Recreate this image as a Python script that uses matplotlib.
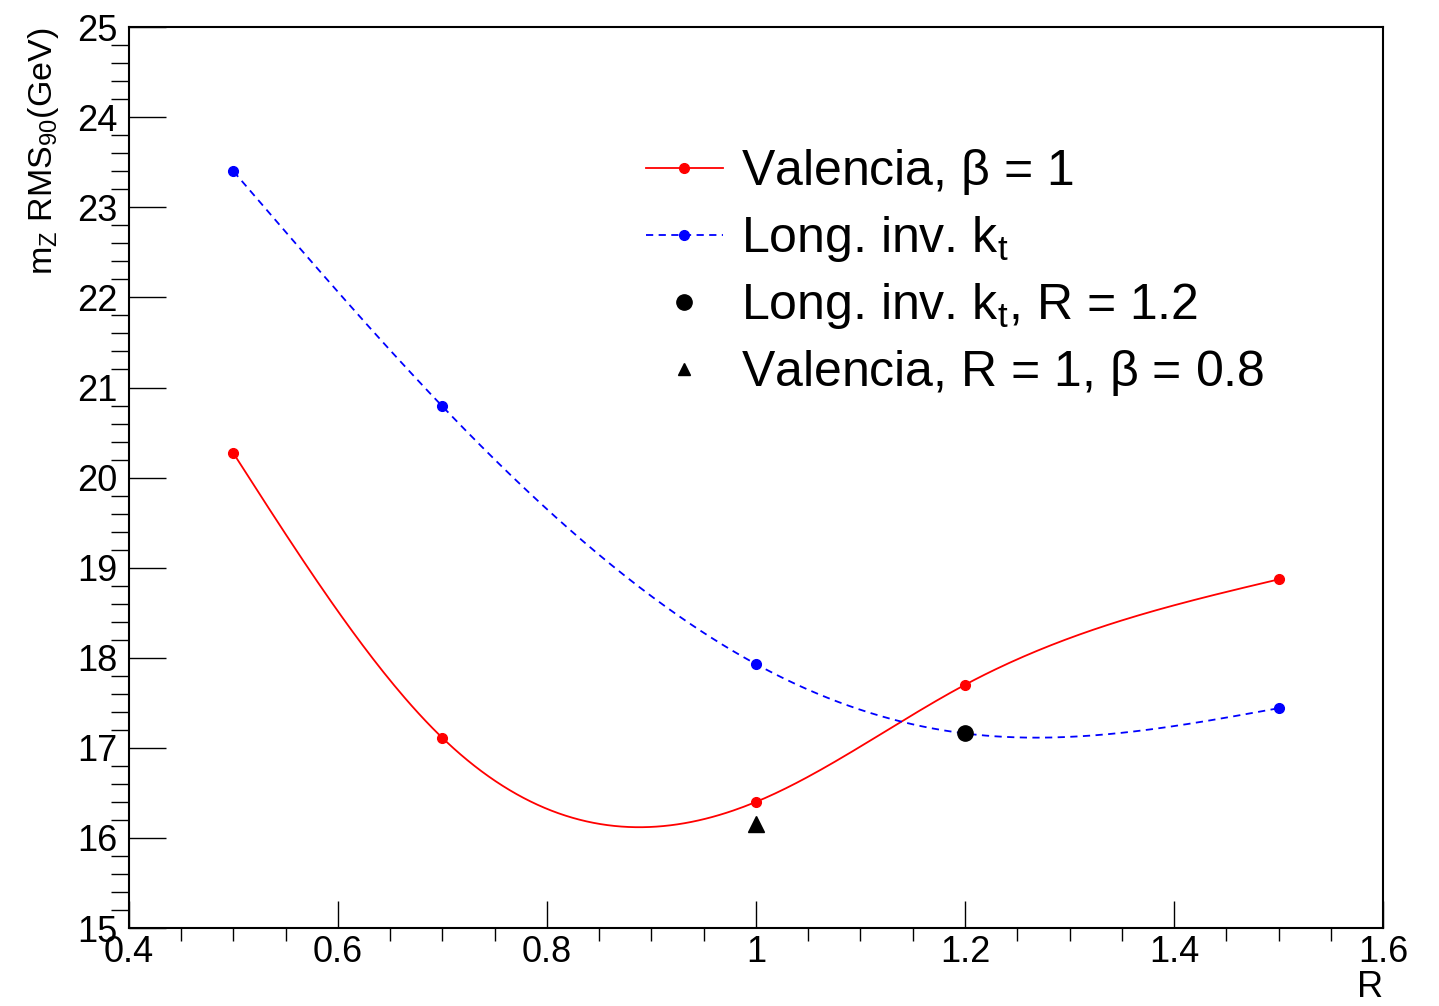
import matplotlib
matplotlib.use('Agg')
import matplotlib.pyplot as plt
import numpy as np
from matplotlib.ticker import MultipleLocator

plt.rcParams['font.family'] = ['Liberation Sans', 'DejaVu Sans']
plt.rcParams['mathtext.fontset'] = 'custom'
plt.rcParams['mathtext.rm'] = 'Liberation Sans'
plt.rcParams['mathtext.it'] = 'Liberation Sans'

# data
r_vals = [0.5, 0.7, 1.0, 1.2, 1.5]
valencia = [20.27, 17.11, 16.40, 17.70, 18.87]
kt = [23.40, 20.79, 17.93, 17.16, 17.44]
kt_r12 = (1.2, 17.16)
val_b08 = (1.0, 16.15)


def natural_spline(x, y, n=300):
    x = np.asarray(x, float)
    y = np.asarray(y, float)
    m = len(x)
    h = np.diff(x)
    A = np.zeros((m, m))
    b = np.zeros(m)
    A[0, 0] = A[-1, -1] = 1
    for i in range(1, m - 1):
        A[i, i - 1] = h[i - 1]
        A[i, i] = 2 * (h[i - 1] + h[i])
        A[i, i + 1] = h[i]
        b[i] = 3 * ((y[i + 1] - y[i]) / h[i] - (y[i] - y[i - 1]) / h[i - 1])
    c = np.linalg.solve(A, b)
    xs = np.linspace(x[0], x[-1], n)
    ys = np.empty_like(xs)
    for k, xv in enumerate(xs):
        i = min(np.searchsorted(x, xv, side='right') - 1, m - 2)
        dx = xv - x[i]
        bb = (y[i + 1] - y[i]) / h[i] - h[i] * (2 * c[i] + c[i + 1]) / 3
        d = (c[i + 1] - c[i]) / (3 * h[i])
        ys[k] = y[i] + bb * dx + c[i] * dx ** 2 + d * dx ** 3
    return xs, ys


fig = plt.figure(figsize=(14.39, 10.06), dpi=100)
ax = fig.add_axes([0.0896, 0.0775, 0.8715, 0.8955])

xs, ys = natural_spline(r_vals, valencia)
ax.plot(xs, ys, color='red', lw=1.3)
ax.plot(r_vals, valencia, 'o', color='red', ms=7)
xs, ys = natural_spline(r_vals, kt)
ax.plot(xs, ys, color='blue', lw=1.3, ls=(0, (4, 3)))
ax.plot(r_vals, kt, 'o', color='blue', ms=7)
ax.plot([kt_r12[0]], [kt_r12[1]], 'o', color='black', ms=11)
ax.plot([val_b08[0]], [val_b08[1]], '^', color='black', ms=11)

# legend proxies
h1, = ax.plot([], [], '-o', color='red', ms=7, lw=1.3)
h2, = ax.plot([], [], 'o', color='blue', ms=7, lw=1.3, ls=(0, (4, 3)))
h3, = ax.plot([], [], 'o', color='black', ms=11, ls='none')
h4, = ax.plot([], [], '^', color='black', ms=9, ls='none')
labels = [r'Valencia, $\beta$ = 1', r'Long. inv. k$_{\mathrm{t}}$',
          r'Long. inv. k$_{\mathrm{t}}$, R = 1.2', r'Valencia, R = 1, $\beta$ = 0.8']
ax.legend([h1, h2, h3, h4], labels, loc='upper left', bbox_to_anchor=(0.396, 0.889),
          frameon=False, fontsize=36, handlelength=1.55, handletextpad=0.36,
          labelspacing=0.34, borderaxespad=0)

ax.set_xlim(0.4, 1.6)
ax.set_ylim(15, 25)
ax.xaxis.set_major_locator(MultipleLocator(0.2))
ax.xaxis.set_minor_locator(MultipleLocator(0.05))
ax.yaxis.set_major_locator(MultipleLocator(1))
ax.yaxis.set_minor_locator(MultipleLocator(0.2))
ax.set_xticks([0.4, 0.6, 0.8, 1.0, 1.2, 1.4, 1.6])
ax.set_xticklabels(['0.4', '0.6', '0.8', '1', '1.2', '1.4', '1.6'])
ax.tick_params(direction='in', labelsize=26, top=False, right=False)
ax.tick_params(axis='x', which='major', length=19.5, width=1.0, pad=5)
ax.tick_params(axis='x', which='minor', length=9.5, width=1.0)
ax.tick_params(axis='y', which='major', length=26.5, width=1.0, pad=8)
ax.tick_params(axis='y', which='minor', length=13, width=1.0)
for s in ax.spines.values():
    s.set_linewidth(1.5)

ax.set_xlabel('R', fontsize=26, loc='right', labelpad=0)
ax.set_ylabel(r'm$_{\mathrm{Z}}$ RMS$_{90}$(GeV)', fontsize=24.5, loc='top', labelpad=12)

fig.savefig('out.png', dpi=100)
